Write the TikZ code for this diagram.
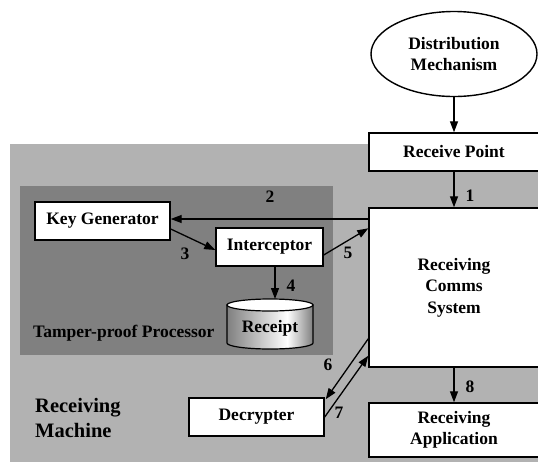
\documentclass[tikz,border=0pt]{standalone}
\usepackage{fontspec}
\setmainfont{Liberation Serif}
\usetikzlibrary{arrows.meta,shapes.geometric,calc}

\definecolor{machinegray}{gray}{0.70}
\definecolor{procgray}{gray}{0.50}
\newcommand\boxfont{\bfseries\fontsize{17.5}{21.5}\selectfont}
\newcommand\regionfont{\bfseries\fontsize{20.5}{25}\selectfont}

% body of the receipt store: dark at both sides, bright right of centre
\pgfdeclarehorizontalshading{cylbody}{100bp}{color(0bp)=(black!50); color(25bp)=(black!50); color(60bp)=(white); color(75bp)=(black!50); color(100bp)=(black!50)}

\begin{document}
\begin{tikzpicture}[x=1pt,y=-1pt,
  box/.style={draw=black, line width=1.4pt, fill=white, inner sep=0pt, align=center, font=\boxfont},
  arr/.style={line width=1.3pt, -{Triangle[length=11pt,width=8pt]}},
  num/.style={font=\boxfont, inner sep=0pt},
]
\useasboundingbox (0,0) rectangle (538,461);
\clip (0,0) rectangle (538,461);
\fill[white] (0,0) rectangle (538,461);

% regions
\fill[machinegray] (10,143.5) rectangle (545,470);
\fill[procgray] (20,186) rectangle (333,355);

% receipt store (cylinder)
\draw[shading=cylbody, line width=1.2pt] (227,305) -- (227,343)
  arc[start angle=180, end angle=360, x radius=43pt, y radius=6pt] -- (313,305) -- cycle;
\draw[fill=white, line width=1.2pt] (270,305) ellipse[x radius=43pt, y radius=6pt];
\node[num] (receipt) at (270,328) {Receipt};
\coordinate (rtop) at (275,299);

% boxes
\node[draw, ellipse, line width=1.4pt, fill=white, inner sep=0pt, align=center, font=\boxfont,
      minimum width=166pt, minimum height=85pt] (dist) at (454,54) {Distribution\\Mechanism};
\node[box, minimum width=170pt, minimum height=38pt] (rp) at (454,152) {Receive Point};
\node[box, minimum width=170pt, minimum height=159pt] (comms) at (454,287.5) {Receiving\\Comms\\System};
\node[box, minimum width=170pt, minimum height=54pt] (app) at (454,430) {Receiving\\Application};
\node[box, minimum width=135pt, minimum height=38pt] (keygen) at (102.5,221) {Key Generator};
\node[box, minimum width=107pt, minimum height=38pt] (inter) at (269.5,247) {Interceptor};
\node[box, minimum width=135pt, minimum height=38pt] (decr) at (256.5,417) {Decrypter};

% region captions
\node[num, anchor=west] (tpp) at (33,333) {Tamper-proof Processor};
\node[anchor=west, align=left, font=\regionfont, inner sep=0pt] (rm) at (35,417.5) {Receiving\\Machine};

% connectors
\draw[arr] (dist) -- (rp);
\draw[arr] (rp) -- (comms);
\draw[arr] ([yshift=2pt]comms.west |- keygen.east) -- ([yshift=2pt]keygen.east);
\draw[arr] ([yshift=-8pt]keygen.east) -- ([yshift=-3pt]inter.west);
\draw[arr] ([xshift=5.5pt]inter.south) -- (rtop);
\draw[arr] ([yshift=-8pt]inter.east) -- ([yshift=-21pt]comms.north west);
\draw[arr] ([yshift=29pt]comms.south west) -- ([xshift=1pt,yshift=-2pt]decr.north east);
\draw[arr] (decr.east) -- ([yshift=12pt]comms.south west);
\draw[arr] (comms) -- (app);

% step numbers
\node[num] (n1) at (470,196) {1};
\node[num] (n2) at (270,197) {2};
\node[num] (n3) at (185,254) {3};
\node[num] (n4) at (291,286) {4};
\node[num] (n5) at (348,253) {5};
\node[num] (n6) at (328,365) {6};
\node[num] (n7) at (339,413) {7};
\node[num] (n8) at (470,387) {8};
\end{tikzpicture}
\end{document}
